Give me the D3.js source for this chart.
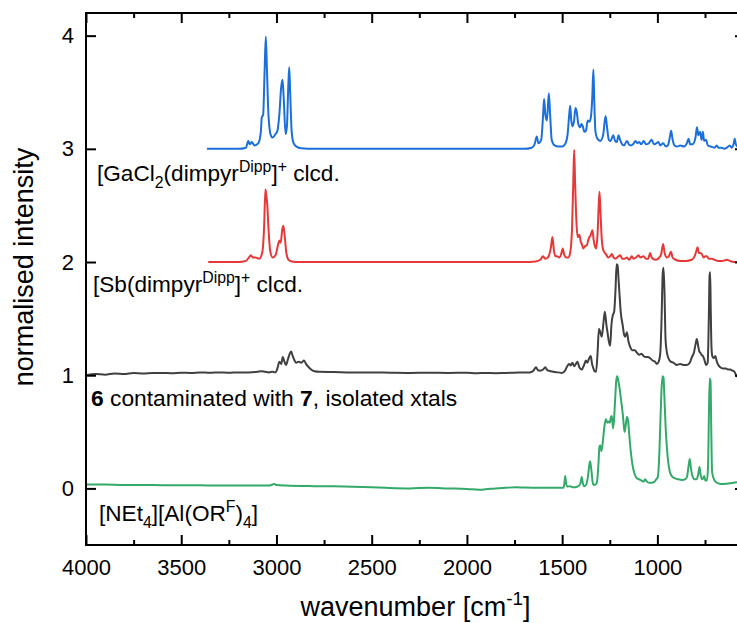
<!DOCTYPE html>
<html>
<head>
<meta charset="utf-8">
<script src="https://cdn.jsdelivr.net/npm/d3@7/dist/d3.min.js"></script>
<style>
  html, body { margin: 0; padding: 0; background: #fff; }
  svg { display: block; font-family: "Liberation Sans", Arial, sans-serif; }
</style>
</head>
<body>
<svg id="chart" width="737" height="623"></svg>
<script>
// Axis ticks
const wavenumberTicks = [4000, 3500, 3000, 2500, 2000, 1500, 1000];
const wavenumberMinorTicks = [3750, 3250, 2750, 2250, 1750, 1250, 750];
const intensityTicks = [0, 1, 2, 3, 4];

// Stacking offsets of the four traces (normalised intensity + offset)
const offsets = [3, 2, 1, 0];
const colors = ["#1c6fd9", "#e63838", "#404040", "#33a96a"];

// [GaCl2(dimpyrDipp)]+ calculated spectrum: [wavenumber, normalised intensity]
const gaclCalc = [
  [3365, 0], [3200, 0], [3160, 0.01], [3148, 0.07], [3140, 0.04], [3130, 0.06], [3115, 0.03],
  [3095, 0.05], [3082, 0.15], [3077, 0.28], [3070, 0.30], [3062, 0.7], [3056, 0.99], [3050, 0.7],
  [3042, 0.3], [3030, 0.12], [3022, 0.1], [3005, 0.13], [2995, 0.16], [2985, 0.3], [2975, 0.55],
  [2968, 0.61], [2962, 0.45], [2952, 0.13], [2945, 0.2], [2938, 0.55], [2933, 0.72], [2928, 0.5],
  [2920, 0.15], [2910, 0.05], [2895, 0.02], [2870, 0.005], [2800, 0], [1700, 0], [1660, 0.01],
  [1645, 0.04], [1633, 0.11], [1625, 0.05], [1610, 0.08], [1600, 0.3], [1595, 0.44], [1588, 0.3],
  [1580, 0.25], [1570, 0.49], [1563, 0.3], [1555, 0.08], [1540, 0.03], [1520, 0.02], [1500, 0.02],
  [1485, 0.04], [1472, 0.12], [1463, 0.3], [1458, 0.38], [1452, 0.25], [1445, 0.2], [1438, 0.24],
  [1430, 0.36], [1424, 0.33], [1415, 0.22], [1406, 0.19], [1398, 0.22], [1392, 0.2], [1383, 0.15],
  [1375, 0.16], [1366, 0.25], [1358, 0.24], [1350, 0.27], [1342, 0.45], [1336, 0.7], [1331, 0.4],
  [1325, 0.15], [1315, 0.09], [1300, 0.07], [1285, 0.12], [1272, 0.29], [1265, 0.2], [1255, 0.08],
  [1246, 0.07], [1232, 0.12], [1222, 0.07], [1213, 0.06], [1204, 0.12], [1196, 0.08], [1185, 0.04],
  [1175, 0.03], [1160, 0.07], [1150, 0.04], [1140, 0.03], [1128, 0.04], [1115, 0.07], [1105, 0.05],
  [1095, 0.06], [1085, 0.04], [1072, 0.07], [1060, 0.04], [1045, 0.05], [1030, 0.08], [1018, 0.04],
  [1005, 0.05], [995, 0.06], [985, 0.03], [970, 0.05], [955, 0.02], [945, 0.03], [935, 0.1],
  [928, 0.16], [920, 0.08], [910, 0.03], [895, 0.02], [880, 0.03], [860, 0.02], [845, 0.05],
  [836, 0.09], [828, 0.04], [815, 0.04], [800, 0.1], [792, 0.19], [785, 0.12], [776, 0.15],
  [768, 0.08], [761, 0.15], [755, 0.07], [745, 0.08], [735, 0.03], [720, 0.02], [700, 0.01],
  [688, 0.03], [680, 0.01], [662, 0.01], [650, 0.0], [635, 0.01], [620, 0.03], [610, 0.01],
  [600, 0.04], [594, 0.09], [588, 0.04], [580, 0.02], [560, 0.01]
];

// [Sb(dimpyrDipp)]+ calculated spectrum
const sbCalc = [
  [3358, 0], [3200, 0], [3160, 0.01], [3140, 0.05], [3134, 0.06], [3125, 0.04], [3110, 0.04],
  [3090, 0.03], [3075, 0.08], [3065, 0.3], [3058, 0.64], [3054, 0.6], [3048, 0.5], [3042, 0.3],
  [3033, 0.1], [3020, 0.04], [3005, 0.06], [2992, 0.15], [2985, 0.19], [2978, 0.17], [2970, 0.28],
  [2964, 0.32], [2958, 0.25], [2948, 0.08], [2937, 0.02], [2920, 0.005], [2880, 0], [1700, 0],
  [1640, 0.005], [1615, 0.02], [1600, 0.05], [1590, 0.03], [1575, 0.04], [1560, 0.12], [1551, 0.22],
  [1543, 0.1], [1535, 0.05], [1527, 0.05], [1515, 0.04], [1505, 0.07], [1497, 0.12], [1490, 0.07],
  [1478, 0.04], [1468, 0.04], [1458, 0.08], [1448, 0.3], [1441, 0.75], [1437, 0.99], [1432, 0.7],
  [1425, 0.35], [1418, 0.22], [1410, 0.24], [1402, 0.18], [1395, 0.15], [1389, 0.12], [1380, 0.14],
  [1370, 0.15], [1362, 0.2], [1350, 0.24], [1341, 0.28], [1335, 0.2], [1328, 0.14], [1322, 0.12],
  [1314, 0.25], [1308, 0.5], [1304, 0.62], [1299, 0.45], [1292, 0.2], [1283, 0.1], [1270, 0.07],
  [1258, 0.04], [1248, 0.05], [1239, 0.07], [1230, 0.04], [1220, 0.03], [1205, 0.05], [1195, 0.06],
  [1185, 0.03], [1172, 0.03], [1160, 0.04], [1148, 0.02], [1134, 0.05], [1125, 0.03], [1112, 0.04],
  [1099, 0.06], [1090, 0.04], [1073, 0.05], [1060, 0.03], [1048, 0.03], [1038, 0.08], [1030, 0.04],
  [1010, 0.02], [995, 0.03], [980, 0.07], [970, 0.16], [962, 0.08], [950, 0.04], [940, 0.05],
  [929, 0.09], [920, 0.04], [905, 0.02], [880, 0.01], [850, 0.01], [820, 0.02], [805, 0.05],
  [795, 0.1], [789, 0.13], [782, 0.08], [775, 0.08], [766, 0.07], [758, 0.04], [748, 0.05],
  [740, 0.05], [730, 0.03], [714, 0.03], [700, 0.02], [680, 0.01], [660, 0.01], [635, 0.02],
  [620, 0.01], [600, 0.0], [560, 0.0]
];

// Compound 6 (contaminated with 7), isolated crystals
const sample6 = [
  [4000, 0.0], [3950, 0.01], [3900, 0.005], [3850, 0.015], [3800, 0.01], [3750, 0.02], [3700, 0.015],
  [3650, 0.02], [3600, 0.02], [3550, 0.018], [3500, 0.022], [3450, 0.02], [3400, 0.025], [3350, 0.022],
  [3300, 0.025], [3250, 0.022], [3200, 0.025], [3150, 0.025], [3100, 0.03], [3080, 0.035], [3060, 0.03],
  [3040, 0.025], [3020, 0.03], [3005, 0.025], [2995, 0.06], [2985, 0.12], [2975, 0.1], [2967, 0.16],
  [2958, 0.12], [2950, 0.09], [2940, 0.14], [2930, 0.19], [2923, 0.21], [2915, 0.17], [2905, 0.13],
  [2897, 0.11], [2885, 0.12], [2870, 0.11], [2855, 0.13], [2845, 0.1], [2830, 0.07], [2818, 0.05],
  [2800, 0.035], [2775, 0.03], [2700, 0.028], [2600, 0.025], [2500, 0.025], [2400, 0.022], [2300, 0.02],
  [2200, 0.022], [2100, 0.02], [2000, 0.022], [1950, 0.018], [1900, 0.02], [1850, 0.018], [1800, 0.02],
  [1750, 0.022], [1700, 0.025], [1670, 0.025], [1651, 0.04], [1637, 0.07], [1628, 0.045], [1616, 0.04],
  [1600, 0.05], [1589, 0.07], [1578, 0.045], [1560, 0.035], [1545, 0.03], [1520, 0.025], [1501, 0.02],
  [1485, 0.04], [1470, 0.09], [1462, 0.1], [1455, 0.085], [1446, 0.11], [1437, 0.08], [1428, 0.1],
  [1420, 0.12], [1410, 0.07], [1397, 0.05], [1385, 0.09], [1375, 0.13], [1368, 0.11], [1358, 0.15],
  [1350, 0.17], [1343, 0.1], [1336, 0.06], [1330, 0.035], [1322, 0.03], [1314, 0.2], [1307, 0.41],
  [1300, 0.38], [1292, 0.34], [1284, 0.45], [1276, 0.56], [1268, 0.45], [1262, 0.38], [1255, 0.3],
  [1248, 0.26], [1241, 0.45], [1234, 0.53], [1227, 0.56], [1220, 0.75], [1214, 0.98], [1209, 0.97],
  [1204, 0.85], [1199, 0.72], [1192, 0.55], [1182, 0.44], [1175, 0.36], [1169, 0.34], [1160, 0.38],
  [1152, 0.3], [1143, 0.25], [1130, 0.22], [1118, 0.22], [1108, 0.2], [1095, 0.18], [1083, 0.19],
  [1073, 0.17], [1060, 0.16], [1050, 0.16], [1038, 0.15], [1025, 0.13], [1012, 0.12], [1003, 0.1],
  [993, 0.12], [985, 0.19], [978, 0.5], [972, 0.9], [968, 0.95], [963, 0.75], [957, 0.31], [950, 0.2],
  [942, 0.15], [930, 0.12], [915, 0.11], [898, 0.09], [880, 0.1], [865, 0.09], [845, 0.09], [830, 0.11],
  [819, 0.16], [808, 0.2], [800, 0.27], [793, 0.32], [786, 0.26], [780, 0.21], [775, 0.2], [768, 0.18],
  [761, 0.17], [754, 0.14], [744, 0.09], [736, 0.11], [730, 0.5], [726, 0.88], [723, 0.91], [720, 0.6],
  [716, 0.25], [712, 0.17], [705, 0.15], [696, 0.17], [688, 0.12], [680, 0.09], [670, 0.07], [655, 0.06],
  [640, 0.06], [630, 0.05], [618, 0.05], [605, 0.04], [595, 0.03], [583, -0.01], [570, -0.02], [560, -0.02]
];

// [NEt4][Al(ORF)4] reference spectrum
const netAl = [
  [4000, 0.035], [3900, 0.035], [3800, 0.03], [3700, 0.03], [3600, 0.028], [3500, 0.028], [3400, 0.027],
  [3300, 0.025], [3200, 0.025], [3100, 0.025], [3040, 0.025], [3020, 0.035], [3010, 0.038], [3000, 0.03],
  [2950, 0.025], [2800, 0.02], [2700, 0.018], [2600, 0.015], [2500, 0.01], [2424, 0.005], [2300, 0.0],
  [2200, 0.005], [2100, 0.0], [2000, -0.005], [1934, -0.012], [1900, -0.008], [1850, 0.0], [1800, 0.005],
  [1742, 0.01], [1700, 0.008], [1600, 0.006], [1520, 0.006], [1493, 0.006], [1488, 0.05], [1484, 0.11],
  [1479, 0.04], [1472, 0.015], [1460, 0.02], [1445, 0.01], [1432, 0.01], [1420, 0.015], [1405, 0.04],
  [1397, 0.1], [1392, 0.05], [1384, 0.02], [1375, 0.03], [1365, 0.1], [1358, 0.2], [1353, 0.24],
  [1346, 0.15], [1338, 0.04], [1330, 0.03], [1318, 0.05], [1310, 0.2], [1304, 0.37], [1300, 0.38],
  [1294, 0.33], [1286, 0.42], [1278, 0.55], [1270, 0.61], [1263, 0.58], [1257, 0.59], [1250, 0.58],
  [1244, 0.63], [1239, 0.64], [1233, 0.53], [1228, 0.6], [1222, 0.78], [1216, 0.95], [1211, 0.99],
  [1205, 0.95], [1198, 0.88], [1190, 0.77], [1182, 0.66], [1176, 0.55], [1172, 0.5], [1166, 0.56],
  [1160, 0.63], [1154, 0.6], [1148, 0.48], [1140, 0.33], [1130, 0.2], [1120, 0.13], [1108, 0.09],
  [1095, 0.08], [1085, 0.07], [1072, 0.06], [1064, 0.08], [1055, 0.06], [1043, 0.05], [1030, 0.05],
  [1015, 0.06], [1006, 0.08], [998, 0.1], [990, 0.3], [985, 0.55], [979, 0.85], [973, 0.99], [968, 0.98],
  [963, 0.8], [957, 0.55], [950, 0.36], [943, 0.23], [935, 0.15], [925, 0.11], [910, 0.09], [890, 0.08],
  [870, 0.075], [855, 0.08], [845, 0.1], [836, 0.2], [830, 0.26], [824, 0.18], [816, 0.11], [805, 0.08],
  [795, 0.08], [786, 0.12], [779, 0.19], [774, 0.13], [766, 0.08], [759, 0.09], [754, 0.11], [748, 0.07],
  [740, 0.07], [734, 0.2], [729, 0.7], [725, 0.97], [721, 0.95], [717, 0.5], [713, 0.15], [705, 0.09],
  [695, 0.06], [680, 0.045], [670, 0.04], [650, 0.04], [620, 0.045], [600, 0.05], [580, 0.055], [560, 0.06]
];

const spectra = [gaclCalc, sbCalc, sample6, netAl];

const svg = d3.select("#chart");
const plot = { left: 86, right: 745, top: 13, bottom: 545 };

const x = d3.scaleLinear().domain([4000, 540]).range([plot.left, plot.right]);
const y = d3.scaleLinear().domain([-0.5, 4.2]).range([plot.bottom, plot.top]);

svg.append("defs").append("clipPath").attr("id", "plot-clip")
  .append("rect")
  .attr("x", plot.left).attr("y", plot.top)
  .attr("width", plot.right - plot.left).attr("height", plot.bottom - plot.top);

// Spectra, stacked by offset
const line = d3.line().curve(d3.curveMonotoneX);
const traces = svg.append("g").attr("clip-path", "url(#plot-clip)");
spectra.forEach((s, i) => {
  traces.append("path")
    .attr("d", line(s.map(d => [x(d[0]), y(d[1] + offsets[i])])))
    .attr("fill", "none")
    .attr("stroke", colors[i])
    .attr("stroke-width", 2)
    .attr("stroke-linejoin", "round");
});

// Axes with inward ticks
function styleAxis(g) {
  g.select(".domain").remove();
  g.selectAll(".tick line").attr("stroke", "#000").attr("stroke-width", 2);
  g.selectAll(".tick text").attr("fill", "#000").attr("font-size", 22)
    .attr("font-family", "'Liberation Sans', Arial, sans-serif");
}

svg.append("g").attr("transform", `translate(0,${plot.bottom})`)
  .call(d3.axisBottom(x).tickValues(wavenumberTicks).tickFormat(d3.format("d"))
    .tickSizeInner(-10).tickSizeOuter(0).tickPadding(14))
  .call(styleAxis);
svg.append("g").attr("transform", `translate(0,${plot.bottom})`)
  .call(d3.axisBottom(x).tickValues(wavenumberMinorTicks).tickFormat("")
    .tickSizeInner(-5).tickSizeOuter(0))
  .call(styleAxis);
svg.append("g").attr("transform", `translate(0,${plot.top})`)
  .call(d3.axisTop(x).tickValues(wavenumberTicks).tickFormat("")
    .tickSizeInner(-10).tickSizeOuter(0))
  .call(styleAxis);
svg.append("g").attr("transform", `translate(0,${plot.top})`)
  .call(d3.axisTop(x).tickValues(wavenumberMinorTicks).tickFormat("")
    .tickSizeInner(-5).tickSizeOuter(0))
  .call(styleAxis);
svg.append("g").attr("transform", `translate(${plot.left},0)`)
  .call(d3.axisLeft(y).tickValues(intensityTicks).tickFormat(d3.format("d"))
    .tickSizeInner(-10).tickSizeOuter(0).tickPadding(12))
  .call(styleAxis);
svg.append("g").attr("transform", `translate(${plot.right},0)`)
  .call(d3.axisRight(y).tickValues(intensityTicks).tickFormat("")
    .tickSizeInner(-10).tickSizeOuter(0))
  .call(styleAxis);

// Frame
svg.append("rect")
  .attr("x", plot.left).attr("y", plot.top)
  .attr("width", plot.right - plot.left).attr("height", plot.bottom - plot.top)
  .attr("fill", "none").attr("stroke", "#000").attr("stroke-width", 2);

// Rich text helper: segments of [text, style] where style is "sub", "sup", "b" or ""
function richText(parent, xPos, yPos, segments, size) {
  const t = parent.append("text").attr("x", xPos).attr("y", yPos)
    .attr("font-size", size).attr("fill", "#000");
  let shift = 0;
  segments.forEach(([str, style]) => {
    const ts = t.append("tspan").text(str);
    let target = 0;
    if (style === "sub") { target = size * 0.3; ts.attr("font-size", size * 0.7); }
    else if (style === "sup") { target = -size * 0.4; ts.attr("font-size", size * 0.7); }
    else if (style === "b") { ts.attr("font-weight", "bold"); }
    if (target !== shift) ts.attr("dy", target - shift);
    shift = target;
  });
  return t;
}

const labels = svg.append("g");
richText(labels, 97, 181, [["[GaCl", ""], ["2", "sub"], ["(dimpyr", ""], ["Dipp", "sup"], ["]", ""], ["+", "sup"], [" clcd.", ""]], 22.6);
richText(labels, 93, 292, [["[Sb(dimpyr", ""], ["Dipp", "sup"], ["]", ""], ["+", "sup"], [" clcd.", ""]], 22.6);
richText(labels, 91, 406, [["6", "b"], [" contaminated with ", ""], ["7", "b"], [", isolated xtals", ""]], 22.8);
richText(labels, 99, 521, [["[NEt", ""], ["4", "sub"], ["][Al(OR", ""], ["F", "sup"], [")", ""], ["4", "sub"], ["]", ""]], 22.6);

// Axis titles
richText(svg, (plot.left + plot.right) / 2, 616, [["wavenumber [cm", ""], ["-1", "sup"], ["]", ""]], 27)
  .attr("text-anchor", "middle");
svg.append("text")
  .attr("transform", "translate(33,267) rotate(-90)")
  .attr("text-anchor", "middle")
  .attr("font-size", 27)
  .attr("fill", "#000")
  .text("normalised intensity");
</script>
</body>
</html>
